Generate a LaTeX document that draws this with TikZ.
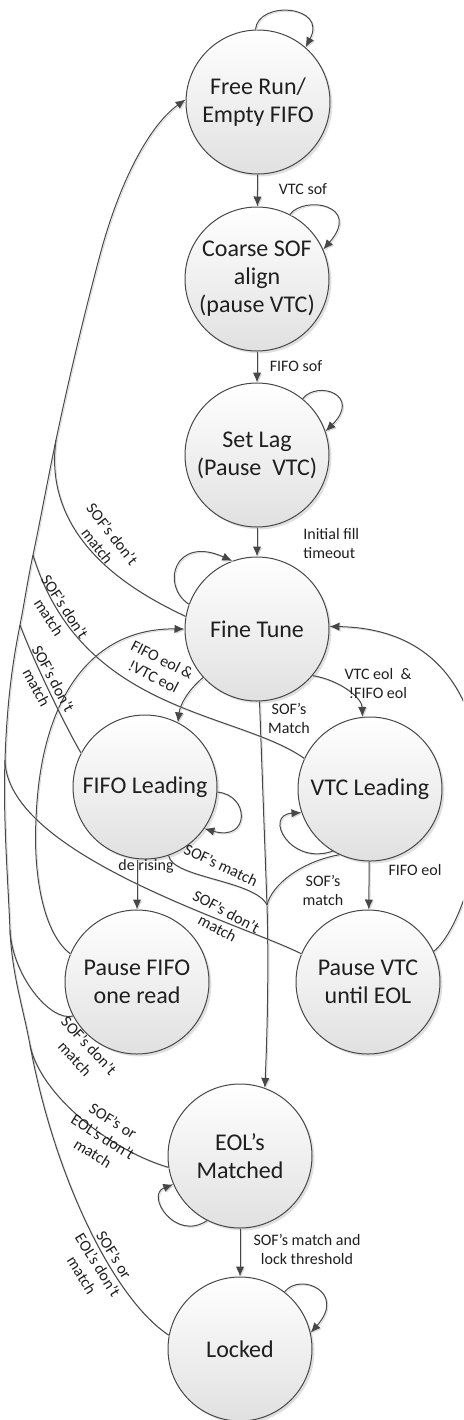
\documentclass[tikz,border=0pt]{standalone}
\usepackage{fontspec}
\setmainfont{Carlito}
\usepackage{tikz}
\usetikzlibrary{
    positioning,
    arrows.meta,
    calc,
    shadows
}

\tikzset{
    state/.style={circle, draw=black!72, line width=0.5pt, minimum size=72pt, inner sep=0pt,
        align=center, font=\fontsize{12}{14}\selectfont, text=black!88,
        top color=white, bottom color=black!12,
        drop shadow={shadow xshift=1.2pt, shadow yshift=-1.2pt, opacity=0.3, fill=black!40}},
    wire/.style={draw=black!72, line width=0.5pt,
        preaction={draw=black!15, transform canvas={shift={(0.6pt,-0.6pt)}}}},
    arr/.style={wire, -{Latex[length=5pt, width=4.2pt]}},
    lbl/.style={font=\fontsize{8}{9.5}\selectfont, align=center, inner sep=0pt, text=black!88}
}

\begin{document}
\begin{tikzpicture}[x=0.5pt, y=-0.5pt]
    \useasboundingbox (0,0) rectangle (463,1420);
    \clip (0,0) rectangle (463,1420);

    % 状態
    \node[state] (free) at (258,102) {Free Run/\\Empty FIFO};
    \node[state] (coarse) at (257,279) {Coarse SOF\\align\\(pause VTC)};
    \node[state] (lag) at (257,455) {Set Lag\\(Pause~ VTC)};
    \node[state] (fine) at (257,629) {Fine Tune};
    \node[state] (fifolead) at (145,787) {FIFO Leading};
    \node[state] (vtclead) at (370,789) {VTC Leading};
    \node[state] (pausefifo) at (137,982) {Pause FIFO\\one read};
    \node[state] (pausevtc) at (368,982) {Pause VTC\\until EOL};
    \node[state] (eolmatch) at (240,1156) {EOL’s\\Matched};
    \node[state] (locked) at (240,1349) {Locked};

    % 合流点
    \coordinate (jA) at (56,440);
    \coordinate (jB) at (33,555);
    \coordinate (jC) at (20,625);
    \coordinate (jD) at (5,760);
    \coordinate (jE) at (10,930);
    \coordinate (jF) at (30,1045);
    \coordinate (jP) at (100,255);
    \coordinate (jM) at (267,905);

    % 縦の遷移
    \draw[arr] (free) -- (coarse);
    \node[lbl] (tVTCsof) at (303,189) {VTC sof};
    \draw[arr] (coarse) -- (lag);
    \node[lbl] (tFIFOsof) at (296,366) {FIFO sof};
    \draw[arr] (lag) -- (fine);
    \node[lbl, align=left, anchor=west] (tInit) at (303,543) {Initial fill\\timeout};
    \draw[arr] (pausefifo.north |- fifolead.south) -- (pausefifo.north);
    \node[lbl] (tDe) at (146,866) {de rising};
    \draw[arr] (vtclead) -- (pausevtc);
    \node[lbl] (tFifoEolB) at (415,870) {FIFO eol};
    \draw[arr] (eolmatch) -- (locked);
    \node[lbl] (tLock) at (307,1249) {SOF’s match and\\lock threshold};

    % 自己ループ
    \draw[arr] (free.92) .. controls (258,0) and (328,5) .. (free.49);
    \draw[arr] (coarse.63) .. controls (305,195) and (362,205) .. (coarse.24);
    \draw[arr] (lag.51) .. controls (318,380) and (362,395) .. (lag.19);
    \draw[arr] (fine.160) .. controls (160,585) and (175,535) .. (fine.110);
    \draw[arr] (fifolead.-4) .. controls (250,795) and (250,842) .. (fifolead.-35);
    \draw[arr] (vtclead.239) .. controls (290,866) and (263,815) .. (vtclead.199);
    \draw[arr] (eolmatch.243) .. controls (175,1242) and (145,1195) .. (eolmatch.203);
    \draw[arr] (locked.52) .. controls (300,1272) and (347,1292) .. (locked.13);

    % Fine Tune から左右へ
    \draw[arr] (fine.222) .. controls (188,690) and (180,705) .. (fifolead.63);
    \node[lbl, rotate=-27] (tFifoEol) at (158,668) {FIFO eol \&\\!VTC eol};
    \draw[arr] (fine.-40) .. controls (340,680) and (362,698) .. (vtclead.96);
    \node[lbl] (tVtcEol) at (378,683) {VTC eol~ \&\\!FIFO eol};

    % Fine Tune へ戻る
    \draw[arr] (pausevtc.25) .. controls (485,910) and (540,630) .. (fine.2);
    \draw[arr] (pausefifo.157) .. controls (45,935) and (33,880) .. (36,820)
        .. controls (40,700) and (90,628) .. (fine.180);

    % EOL's Matched へ
    \draw[arr] (fine.-88) -- (jM) .. controls (269,970) and (267,1040) .. (eolmatch.70);
    \node[lbl] (tSofMatchA) at (289,718) {SOF’s\\Match};
    \draw[wire] (fifolead.-71) .. controls (172,878) and (255,880) .. (jM);
    \node[lbl, rotate=-25] (tSofMatchB) at (221,865) {SOF’s match};
    \draw[wire] (vtclead.-115) .. controls (300,862) and (272,885) .. (jM);
    \node[lbl] (tSofMatchC) at (323,890) {SOF’s\\match};

    % 左の幹線 (Free Run へ)
    \draw[arr] (locked.169) .. controls (115,1300) and (55,1180) .. (jF)
        .. controls (22.7,1005.7) and (12,975) .. (jE)
        .. controls (8,880) and (3,820) .. (jD)
        .. controls (7,700) and (13,660) .. (jC)
        .. controls (24,605) and (28,578) .. (jB)
        .. controls (40,522) and (48,478) .. (jA)
        .. controls (72,364) and (88,300) .. (jP)
        .. controls (120,180) and (150,125) .. (free.178);
    \draw[wire] (fine.170) .. controls (150,599) and (41,548) .. (jA);
    \draw[wire] (vtclead.155) .. controls (237,711) and (81.5,714) .. (jB);
    \draw[wire] (fifolead.152) .. controls (70,735) and (35,665) .. (jC);
    \draw[wire] (pausevtc.157) .. controls (245,925) and (6.4,855) .. (jD);
    \draw[wire] (pausefifo.208) .. controls (50,1022) and (12,975) .. (jE);
    \draw[wire] (eolmatch.189) .. controls (110,1150) and (40,1095) .. (jF);

    \node[lbl, rotate=-52] (tFine) at (105,540) {SOF’s don’t\\match};
    \node[lbl, rotate=-57] (tVtc) at (57,612) {SOF’s don’t\\match};
    \node[lbl, rotate=-62] (tFifo) at (45,683) {SOF’s don’t\\match};
    \node[lbl, rotate=-28] (tPvtc) at (222,920) {SOF’s don’t\\match};
    \node[lbl, rotate=-47] (tPfifo) at (82,1052) {SOF’s don’t\\match};
    \node[lbl, rotate=-32] (tEol) at (103,1137) {SOF’s or\\EOL’s don’t\\match};
    \node[lbl, rotate=-58] (tLocked) at (98,1265) {SOF’s or\\EOL’s don’t\\match};
\end{tikzpicture}
\end{document}
